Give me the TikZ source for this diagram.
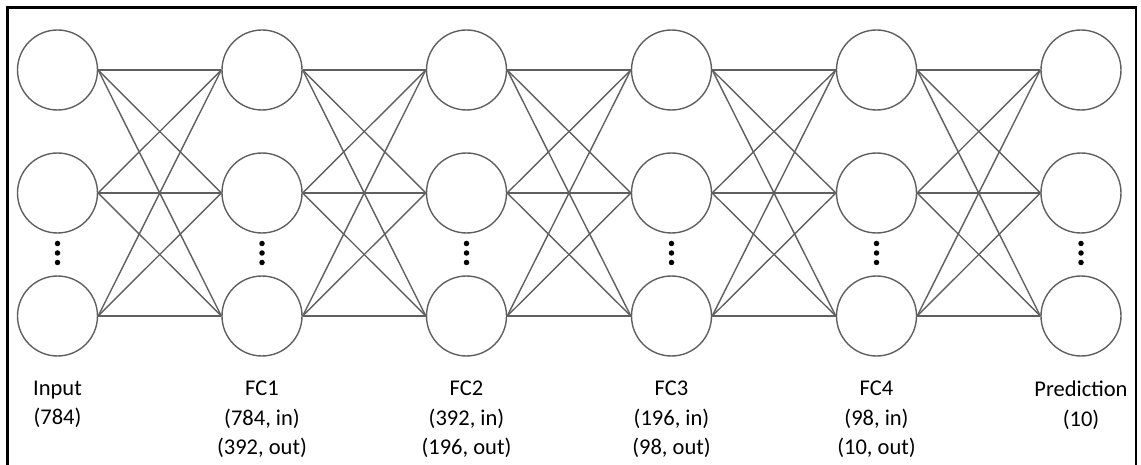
\documentclass[tikz,border=0pt]{standalone}
\usepackage{fontspec}
\setmainfont{Carlito}
\definecolor{netgray}{RGB}{95,95,95}
\tikzset{
  neuron/.style={circle, draw=netgray, line width=1.4pt, minimum size=80pt, inner sep=0pt},
  edge/.style={draw=netgray, line width=1.4pt},
  vdot/.style={circle, fill=black, minimum size=5.5pt, inner sep=0pt},
  caption/.style={anchor=north, inner sep=0pt, align=center, font=\fontsize{22.5}{29.2}\selectfont},
  frame/.style={draw=black, line width=2.6pt}
}
\begin{document}
\begin{tikzpicture}[x=1pt,y=-1pt]
\useasboundingbox (0,0) rectangle (1141,465);
\draw[frame] (7.5,480) -- (7.5,7.5) -- (1136,7.5) -- (1136,480);
\foreach \i/\x in {1/57.5,2/262,3/466.5,4/671.5,5/876.5,6/1081}{
  \node[neuron] (c\i a) at (\x,70) {};
  \node[neuron] (c\i b) at (\x,193) {};
  \node[neuron] (c\i c) at (\x,316) {};
  \node[vdot] (d\i a) at (\x,243.5) {};
  \node[vdot] (d\i b) at (\x,253) {};
  \node[vdot] (d\i c) at (\x,262.5) {};
}
\foreach \i [evaluate=\i as \j using int(\i+1)] in {1,...,5}{
  \foreach \r in {a,b,c}{
    \foreach \s in {a,b,c}{
      \draw[edge] (c\i\r.east) -- (c\j\s.west);
    }
  }
}
\node[caption] (l1) at (57.5,381) {Input\\(784)};
\node[caption] (l2) at (262,381) {FC1\\(784, in)\\(392, out)};
\node[caption] (l3) at (466.5,381) {FC2\\(392, in)\\(196, out)};
\node[caption] (l4) at (671.5,381) {FC3\\(196, in)\\(98, out)};
\node[caption] (l5) at (876.5,381) {FC4\\(98, in)\\(10, out)};
\node[caption] (l6) at (1081,381) {Prediction\\(10)};
\end{tikzpicture}
\end{document}
